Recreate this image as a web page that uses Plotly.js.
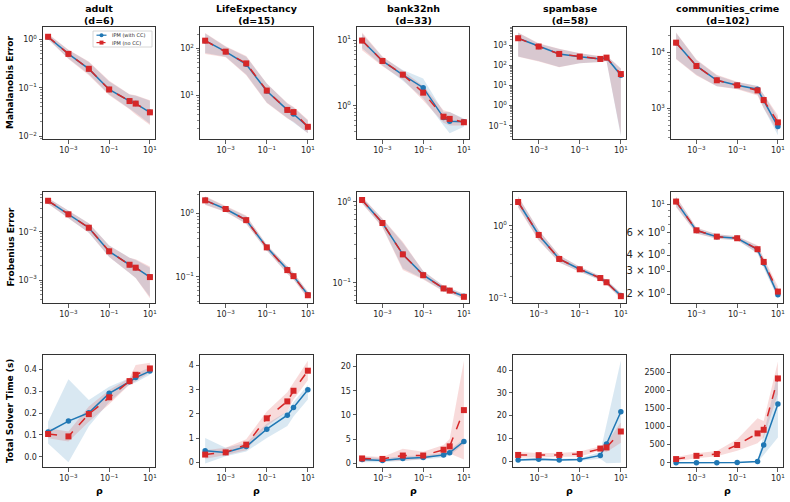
<!DOCTYPE html>
<html><head><meta charset="utf-8">
<script src="https://cdn.plot.ly/plotly-3.0.1.min.js"></script>
<style>html,body{margin:0;padding:0;background:#fff}#chart{width:790px;height:502px}</style>
</head><body><div id="chart"></div>
<script>
// ---------- data ----------
const rho = [1e-4, 1e-3, 1e-2, 1e-1, 1, 2, 10];
const datasets = ['adult', 'LifeExpectancy', 'bank32nh', 'spambase', 'communities_crime'];
const dims = [6, 15, 33, 58, 102];
const rowLabels = ['Mahalanobis Error', 'Frobenius Error', 'Total Solver Time (s)'];
const seriesNames = ['IPM (with CC)', 'IPM (no CC)'];

// Mahalanobis error
const maha_adult_cc = [1.12, 0.50, 0.245, 0.092, 0.053, 0.047, 0.031];
const maha_adult_cc_lo = [1.0, 0.40, 0.19, 0.072, 0.037, 0.030, 0.018];
const maha_adult_cc_hi = [1.28, 0.60, 0.34, 0.135, 0.072, 0.068, 0.054];
const maha_adult_no = [1.13, 0.50, 0.246, 0.092, 0.053, 0.047, 0.031];
const maha_adult_no_lo = [1.0, 0.39, 0.18, 0.070, 0.036, 0.028, 0.017];
const maha_adult_no_hi = [1.30, 0.61, 0.35, 0.14, 0.073, 0.070, 0.055];

const maha_life_cc = [145, 85, 46, 12.5, 5.0, 4.1, 2.2];
const maha_life_cc_lo = [80, 66, 28, 7.2, 3.4, 2.7, 1.6];
const maha_life_cc_hi = [205, 108, 66, 18, 6.8, 5.6, 3.0];
const maha_life_no = [145, 85, 48, 12.8, 5.0, 4.5, 2.2];
const maha_life_no_lo = [76, 65, 27, 7.0, 3.3, 2.8, 1.6];
const maha_life_no_hi = [210, 110, 69, 18, 7.0, 5.8, 3.1];

const maha_bank_cc = [9.8, 4.8, 2.95, 1.88, 0.66, 0.58, 0.57];
const maha_bank_cc_lo = [7.5, 4.1, 2.4, 1.3, 0.50, 0.38, 0.48];
const maha_bank_cc_hi = [12.5, 5.5, 3.5, 2.6, 0.80, 0.80, 0.64];
const maha_bank_no = [9.8, 4.8, 2.97, 1.58, 0.68, 0.63, 0.56];
const maha_bank_no_lo = [7.0, 4.0, 2.5, 1.2, 0.55, 0.50, 0.50];
const maha_bank_no_hi = [13.0, 5.6, 3.4, 2.0, 0.85, 0.80, 0.62];

const maha_spam_cc = [2340, 900, 380, 280, 216, 250, 33];
const maha_spam_cc_lo = [290, 170, 85, 130, 150, 170, 0.03];
const maha_spam_cc_hi = [4400, 1250, 680, 410, 290, 310, 70];
const maha_spam_no = [2340, 900, 385, 282, 216, 251, 38];
const maha_spam_no_lo = [280, 160, 83, 130, 150, 170, 0.035];
const maha_spam_no_hi = [4500, 1300, 700, 420, 300, 320, 74];

const maha_comm_cc = [15100, 5760, 3190, 2590, 2200, 1380, 470];
const maha_comm_cc_lo = [7800, 4000, 2500, 2250, 1800, 1000, 330];
const maha_comm_cc_hi = [22500, 7400, 3900, 2950, 2550, 1750, 680];
const maha_comm_no = [15100, 5760, 3190, 2590, 2100, 1410, 560];
const maha_comm_no_lo = [7600, 3900, 2500, 2200, 1700, 1000, 380];
const maha_comm_no_hi = [23000, 7500, 4000, 3000, 2500, 1800, 750];

// Frobenius error
const frob_adult_cc = [0.0437, 0.0229, 0.0121, 0.0039, 0.00207, 0.0018, 0.00115];
const frob_adult_cc_lo = [0.038, 0.019, 0.0095, 0.0030, 0.0014, 0.0011, 0.00045];
const frob_adult_cc_hi = [0.050, 0.027, 0.015, 0.0052, 0.0029, 0.0026, 0.0018];
const frob_adult_no = [0.0437, 0.0229, 0.0121, 0.00393, 0.00207, 0.0018, 0.00115];
const frob_adult_no_lo = [0.038, 0.019, 0.0095, 0.0030, 0.0014, 0.0011, 0.00042];
const frob_adult_no_hi = [0.050, 0.027, 0.015, 0.0052, 0.0029, 0.0027, 0.0019];

const frob_life_cc = [1.60, 1.17, 0.78, 0.29, 0.13, 0.102, 0.052];
const frob_life_cc_lo = [1.38, 1.06, 0.69, 0.26, 0.112, 0.091, 0.046];
const frob_life_cc_hi = [1.82, 1.29, 0.90, 0.32, 0.145, 0.114, 0.058];
const frob_life_no = [1.60, 1.17, 0.78, 0.29, 0.127, 0.102, 0.051];
const frob_life_no_lo = [1.35, 1.05, 0.68, 0.26, 0.110, 0.090, 0.045];
const frob_life_no_hi = [1.85, 1.30, 0.92, 0.32, 0.145, 0.115, 0.058];

const frob_bank_cc = [1.05, 0.546, 0.224, 0.125, 0.085, 0.080, 0.068];
const frob_bank_cc_lo = [0.96, 0.49, 0.15, 0.112, 0.079, 0.075, 0.063];
const frob_bank_cc_hi = [1.14, 0.61, 0.31, 0.14, 0.091, 0.086, 0.073];
const frob_bank_no = [1.05, 0.546, 0.224, 0.124, 0.085, 0.080, 0.067];
const frob_bank_no_lo = [0.95, 0.48, 0.144, 0.110, 0.078, 0.074, 0.062];
const frob_bank_no_hi = [1.15, 0.62, 0.32, 0.140, 0.092, 0.086, 0.072];

const frob_spam_cc = [2.16, 0.75, 0.347, 0.249, 0.188, 0.164, 0.107];
const frob_spam_cc_lo = [1.85, 0.64, 0.31, 0.23, 0.176, 0.153, 0.098];
const frob_spam_cc_hi = [2.55, 0.87, 0.39, 0.27, 0.20, 0.176, 0.116];
const frob_spam_no = [2.16, 0.75, 0.347, 0.249, 0.188, 0.164, 0.105];
const frob_spam_no_lo = [1.80, 0.63, 0.31, 0.23, 0.175, 0.152, 0.097];
const frob_spam_no_hi = [2.60, 0.88, 0.39, 0.27, 0.20, 0.177, 0.115];

const frob_comm_cc = [10.5, 6.25, 5.60, 5.45, 4.45, 3.50, 1.98];
const frob_comm_cc_lo = [9.6, 5.95, 5.40, 5.25, 4.15, 3.20, 1.85];
const frob_comm_cc_hi = [11.4, 6.55, 5.85, 5.65, 4.75, 3.80, 2.15];
const frob_comm_no = [10.5, 6.28, 5.61, 5.45, 4.48, 3.57, 2.10];
const frob_comm_no_lo = [9.5, 5.90, 5.40, 5.25, 4.20, 3.30, 1.90];
const frob_comm_no_hi = [11.5, 6.60, 5.85, 5.65, 4.80, 3.85, 2.30];

// Total solver time (s)
const time_adult_cc = [0.113, 0.163, 0.201, 0.29, 0.343, 0.362, 0.392];
const time_adult_cc_lo = [0.06, -0.025, 0.14, 0.25, 0.33, 0.34, 0.375];
const time_adult_cc_hi = [0.16, 0.355, 0.26, 0.32, 0.36, 0.38, 0.41];
const time_adult_no = [0.104, 0.093, 0.195, 0.272, 0.346, 0.375, 0.404];
const time_adult_no_lo = [0.085, 0.07, 0.16, 0.24, 0.33, 0.345, 0.385];
const time_adult_no_hi = [0.13, 0.115, 0.23, 0.305, 0.36, 0.42, 0.43];

const time_life_cc = [0.48, 0.41, 0.65, 1.37, 1.95, 2.27, 3.0];
const time_life_cc_lo = [-0.05, 0.25, 0.45, 1.0, 1.5, 1.9, 2.6];
const time_life_cc_hi = [1.0, 0.6, 0.8, 1.6, 2.1, 2.5, 3.2];
const time_life_no = [0.32, 0.41, 0.73, 1.82, 2.52, 2.96, 3.79];
const time_life_no_lo = [0.15, 0.3, 0.5, 1.5, 2.1, 2.6, 3.4];
const time_life_no_hi = [0.5, 0.6, 0.95, 2.1, 2.9, 3.3, 4.2];

const time_bank_cc = [0.8, 0.6, 1.0, 1.2, 1.7, 2.2, 4.5];
const time_bank_cc_lo = [0.2, 0.2, 0.5, 0.8, 1.2, 1.6, 4.0];
const time_bank_cc_hi = [1.4, 1.0, 1.5, 1.6, 2.2, 2.8, 5.0];
const time_bank_no = [1.0, 0.9, 1.6, 1.6, 2.8, 3.5, 11.0];
const time_bank_no_lo = [0.5, 0.5, 0.5, 0.9, 1.8, 2.0, 0.8];
const time_bank_no_hi = [1.5, 1.3, 3.0, 2.4, 3.8, 5.0, 21.2];

const time_spam_cc = [0.5, 0.8, 0.5, 0.7, 2.5, 7.5, 21.7];
const time_spam_cc_lo = [0.0, 0.2, 0.0, 0.2, 1.0, -1.0, -0.7];
const time_spam_cc_hi = [1.0, 1.5, 1.0, 1.2, 4.0, 16, 44.2];
const time_spam_no = [2.7, 2.6, 2.7, 3.1, 5.5, 6.0, 13.0];
const time_spam_no_lo = [1.5, 1.6, 1.8, 2.0, 4.5, 4.0, 8.0];
const time_spam_no_hi = [4.0, 3.6, 3.6, 4.2, 6.5, 8.0, 17.0];

const time_comm_cc = [0, 0, 0, 5, 30, 490, 1620];
const time_comm_cc_lo = [0, 0, 0, 0, 10, 200, 700];
const time_comm_cc_hi = [5, 5, 5, 10, 50, 800, 2500];
const time_comm_no = [100, 190, 240, 490, 810, 910, 2330];
const time_comm_no_lo = [40, 120, 180, 330, 540, 700, 1900];
const time_comm_no_hi = [160, 260, 320, 650, 1230, 1150, 2800];

// ---------- panel table (built from arrays) ----------
const panelData = [
  [maha_adult_cc, maha_adult_cc_lo, maha_adult_cc_hi, maha_adult_no, maha_adult_no_lo, maha_adult_no_hi],
  [maha_life_cc, maha_life_cc_lo, maha_life_cc_hi, maha_life_no, maha_life_no_lo, maha_life_no_hi],
  [maha_bank_cc, maha_bank_cc_lo, maha_bank_cc_hi, maha_bank_no, maha_bank_no_lo, maha_bank_no_hi],
  [maha_spam_cc, maha_spam_cc_lo, maha_spam_cc_hi, maha_spam_no, maha_spam_no_lo, maha_spam_no_hi],
  [maha_comm_cc, maha_comm_cc_lo, maha_comm_cc_hi, maha_comm_no, maha_comm_no_lo, maha_comm_no_hi],
  [frob_adult_cc, frob_adult_cc_lo, frob_adult_cc_hi, frob_adult_no, frob_adult_no_lo, frob_adult_no_hi],
  [frob_life_cc, frob_life_cc_lo, frob_life_cc_hi, frob_life_no, frob_life_no_lo, frob_life_no_hi],
  [frob_bank_cc, frob_bank_cc_lo, frob_bank_cc_hi, frob_bank_no, frob_bank_no_lo, frob_bank_no_hi],
  [frob_spam_cc, frob_spam_cc_lo, frob_spam_cc_hi, frob_spam_no, frob_spam_no_lo, frob_spam_no_hi],
  [frob_comm_cc, frob_comm_cc_lo, frob_comm_cc_hi, frob_comm_no, frob_comm_no_lo, frob_comm_no_hi],
  [time_adult_cc, time_adult_cc_lo, time_adult_cc_hi, time_adult_no, time_adult_no_lo, time_adult_no_hi],
  [time_life_cc, time_life_cc_lo, time_life_cc_hi, time_life_no, time_life_no_lo, time_life_no_hi],
  [time_bank_cc, time_bank_cc_lo, time_bank_cc_hi, time_bank_no, time_bank_no_lo, time_bank_no_hi],
  [time_spam_cc, time_spam_cc_lo, time_spam_cc_hi, time_spam_no, time_spam_no_lo, time_spam_no_hi],
  [time_comm_cc, time_comm_cc_lo, time_comm_cc_hi, time_comm_no, time_comm_no_lo, time_comm_no_hi]
];

// ---------- layout geometry ----------
const W = 790, H = 502;
const colPx = [[43, 155], [200, 313], [357, 469], [513, 626], [671, 783]];
const rowPx = [[27, 139], [192, 303], [355, 467]];
const BLUE = '#1f77b4', RED = '#d62728';
const FONT = 'DejaVu Sans, sans-serif';
const TXT = '#262626';
const PX = v => v / W, PY = v => 1 - v / H;

function sup(e) { return '10<sup>' + (e < 0 ? '\u2212' + (-e) : e) + '</sup>'; }
function logMinor(lo, hi) {
  const out = [];
  for (let k = Math.floor(lo) - 1; k <= Math.ceil(hi); k++)
    for (let m = 2; m <= 9; m++) {
      const v = m * Math.pow(10, k);
      const lv = Math.log10(v);
      if (lv >= lo && lv <= hi) out.push(v);
    }
  return out;
}

const yCfg = [
  {type: 'log', range: [-2.06, 0.255], exps: [0, -1, -2]},
  {type: 'log', range: [0.085, 2.45], exps: [2, 1]},
  {type: 'log', range: [-0.507, 1.198], exps: [1, 0]},
  {type: 'log', range: [-1.665, 3.93], exps: [3, 2, 1, 0, -1]},
  {type: 'log', range: [2.45, 4.46], exps: [4, 3]},
  {type: 'log', range: [-3.476, -1.178], exps: [-2, -3]},
  {type: 'log', range: [-1.415, 0.336], exps: [0, -1]},
  {type: 'log', range: [-1.25, 0.12], exps: [0, -1]},
  {type: 'log', range: [-1.074, 0.474], exps: [0, -1]},
  {type: 'log', range: [0.2335, 1.0955], custom: true},
  {type: 'linear', range: [-0.047, 0.4655], vals: [0, 0.1, 0.2, 0.3, 0.4], text: ['0.0', '0.1', '0.2', '0.3', '0.4']},
  {type: 'linear', range: [-0.195, 4.44], vals: [0, 1, 2, 3, 4]},
  {type: 'linear', range: [-0.77, 22.4], vals: [0, 5, 10, 15, 20]},
  {type: 'linear', range: [-2.6, 46.6], vals: [0, 10, 20, 30, 40]},
  {type: 'linear', range: [-119, 2978], vals: [0, 500, 1000, 1500, 2000, 2500]}
];

const traces = [];
const layout = {
  width: W, height: H,
  margin: {l: 0, r: 0, t: 0, b: 0},
  paper_bgcolor: '#fff', plot_bgcolor: '#fff',
  font: {family: FONT, size: 8, color: TXT},
  showlegend: false,
  annotations: [],
  shapes: []
};

for (let r = 0; r < 3; r++) {
  for (let c = 0; c < 5; c++) {
    const i = r * 5 + c;
    const n = i + 1;
    const xa = n === 1 ? 'x' : 'x' + n;
    const ya = n === 1 ? 'y' : 'y' + n;
    const [cc, ccLo, ccHi, no, noLo, noHi] = panelData[i];
    const xs = rho.concat(rho.slice().reverse());
    traces.push({x: xs, y: ccHi.concat(ccLo.slice().reverse()), xaxis: xa, yaxis: ya, type: 'scatter', mode: 'lines',
      fill: 'toself', fillcolor: 'rgba(31,119,180,0.17)', line: {width: 0}, hoverinfo: 'skip'});
    traces.push({x: xs, y: noHi.concat(noLo.slice().reverse()), xaxis: xa, yaxis: ya, type: 'scatter', mode: 'lines',
      fill: 'toself', fillcolor: 'rgba(214,39,40,0.17)', line: {width: 0}, hoverinfo: 'skip'});
    traces.push({x: rho, y: cc, xaxis: xa, yaxis: ya, type: 'scatter', mode: 'lines+markers', name: seriesNames[0],
      line: {color: BLUE, width: 1.5}, marker: {color: BLUE, size: 5.5, symbol: 'circle'}});
    traces.push({x: rho, y: no, xaxis: xa, yaxis: ya, type: 'scatter', mode: 'lines+markers', name: seriesNames[1],
      line: {color: RED, width: 1.5, dash: 'dash'}, marker: {color: RED, size: 6, symbol: 'square'}});

    const axisCommon = {
      showline: true, mirror: true, linecolor: '#333', linewidth: 1,
      showgrid: false, zeroline: false, ticks: 'outside', ticklen: 3.5, tickwidth: 0.8, tickcolor: '#333',
      tickfont: {family: FONT, size: 8, color: TXT}, fixedrange: true
    };
    layout['xaxis' + (n === 1 ? '' : n)] = Object.assign({}, axisCommon, {
      type: 'log', range: [-4.25, 1.25], domain: [PX(colPx[c][0]), PX(colPx[c][1])], anchor: ya,
      tickmode: 'array', tickvals: [1e-3, 1e-1, 10], ticktext: [sup(-3), sup(-1), sup(1)]
    });
    const yc = yCfg[i];
    const yax = Object.assign({}, axisCommon, {
      type: yc.type, range: yc.range, domain: [PY(rowPx[r][1]), PY(rowPx[r][0])], anchor: xa,
      tickmode: 'array'
    });
    if (yc.type === 'log') {
      if (yc.custom) {
        yax.tickvals = [2, 3, 4, 6, 10];
        const big = s => '<span style="font-size:10px">' + s + '</span>';
        yax.ticktext = [big('2 \u00d7 10<sup>0</sup>'), big('3 \u00d7 10<sup>0</sup>'), big('4 \u00d7 10<sup>0</sup>'), big('6 \u00d7 10<sup>0</sup>'), '10<sup>1</sup>'];
        yax.minor = {tickmode: 'array', tickvals: [5, 7, 8, 9], ticks: 'outside', ticklen: 2, tickcolor: '#333', tickwidth: 0.6};
      } else {
        yax.tickvals = yc.exps.map(e => Math.pow(10, e));
        yax.ticktext = yc.exps.map(sup);
        yax.minor = {tickmode: 'array', tickvals: logMinor(yc.range[0], yc.range[1]), ticks: 'outside', ticklen: 2, tickcolor: '#333', tickwidth: 0.6};
      }
    } else {
      yax.tickvals = yc.vals;
      yax.ticktext = yc.text || yc.vals.map(String);
    }
    layout['yaxis' + (n === 1 ? '' : n)] = yax;
  }
}

// column titles and x labels
for (let c = 0; c < 5; c++) {
  const cx = PX((colPx[c][0] + colPx[c][1]) / 2);
  layout.annotations.push({
    xref: 'paper', yref: 'paper', x: cx, y: PY(14.5),
    xanchor: 'center', yanchor: 'middle', showarrow: false,
    text: '<b>' + datasets[c] + '</b><br><b>(d=' + dims[c] + ')</b>',
    font: {family: FONT, size: 9.5, color: '#000'}
  });
  layout.annotations.push({
    xref: 'paper', yref: 'paper', x: cx, y: PY(490),
    xanchor: 'center', yanchor: 'middle', showarrow: false,
    text: '<b>\u03c1</b>', font: {family: FONT, size: 9.5, color: '#000'}
  });
}
// row labels
for (let r = 0; r < 3; r++) {
  layout.annotations.push({
    xref: 'paper', yref: 'paper', x: PX(10), y: PY((rowPx[r][0] + rowPx[r][1]) / 2),
    xanchor: 'center', yanchor: 'middle', showarrow: false, textangle: -90,
    text: '<b>' + rowLabels[r] + '</b>', font: {family: FONT, size: 9, color: '#000'}
  });
}

// compact legend inside the first panel (drawn as shapes + text)
const lg = {x0: 93, x1: 152, y0: 31, y1: 47, rows: [35.2, 42.6]};
layout.shapes.push({type: 'rect', xref: 'paper', yref: 'paper', x0: PX(lg.x0), x1: PX(lg.x1), y0: PY(lg.y1), y1: PY(lg.y0),
  line: {color: '#cccccc', width: 0.8}, fillcolor: 'rgba(255,255,255,0.85)', layer: 'above'});
const legColors = [BLUE, RED];
for (let k = 0; k < 2; k++) {
  const yy = lg.rows[k];
  layout.shapes.push({type: 'line', xref: 'paper', yref: 'paper', x0: PX(96.5), x1: PX(106.5), y0: PY(yy), y1: PY(yy),
    line: {color: legColors[k], width: 1.2, dash: k === 1 ? 'dash' : 'solid'}, layer: 'above'});
  const s = 2;
  layout.shapes.push({type: k === 0 ? 'circle' : 'rect', xref: 'paper', yref: 'paper',
    x0: PX(101.5 - s), x1: PX(101.5 + s), y0: PY(yy + s), y1: PY(yy - s),
    line: {width: 0}, fillcolor: legColors[k], layer: 'above'});
  layout.annotations.push({xref: 'paper', yref: 'paper', x: PX(110), y: PY(yy), xanchor: 'left', yanchor: 'middle',
    showarrow: false, text: seriesNames[k], font: {family: FONT, size: 5, color: TXT}});
}

Plotly.newPlot('chart', traces, layout, {displayModeBar: false, staticPlot: true});
</script>
</body></html>
